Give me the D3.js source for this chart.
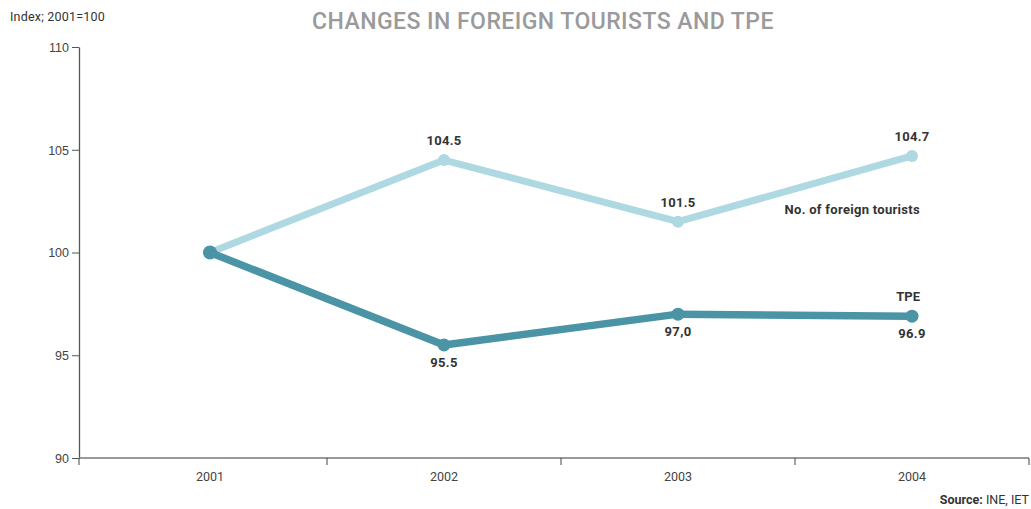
<!DOCTYPE html>
<html>
<head>
<meta charset="utf-8">
<script src="https://cdn.jsdelivr.net/npm/d3@7"></script>
<style>
  body { margin: 0; background: #fff; }
  svg { display: block; font-family: Roboto, "DejaVu Sans", sans-serif; }
</style>
</head>
<body>
<div id="chart"></div>
<script>
// data
var years = ['2001', '2002', '2003', '2004'];
var tourists = [100, 104.5, 101.5, 104.7];
var tpe = [100, 95.5, 97.0, 96.9];
var touristLabels = ['', '104.5', '101.5', '104.7'];
var tpeLabels = ['', '95.5', '97,0', '96.9'];
var yTicks = [90, 95, 100, 105, 110];

var W = 1031, H = 509;
var axisLeft = 79, axisRight = 1029;

var svg = d3.select('#chart').append('svg')
    .attr('width', W)
    .attr('height', H);

var xScale = d3.scaleBand().domain(years).range([93, axisRight]);
var yScale = d3.scaleLinear().domain([90, 110]).range([458, 47]);
var cx = function(y) { return xScale(y) + xScale.bandwidth() / 2; };

// title
svg.append('text')
    .attr('x', 543).attr('y', 29)
    .attr('text-anchor', 'middle')
    .style('font-size', '23px')
    .style('font-weight', 500)
    .style('letter-spacing', '0.45px')
    .style('fill', '#9a9a9c')
    .text('CHANGES IN FOREIGN TOURISTS AND TPE');

svg.append('text')
    .attr('x', 10).attr('y', 21)
    .style('font-size', '12.5px')
    .style('letter-spacing', '0.2px')
    .style('fill', '#333')
    .text('Index; 2001=100');

// y axis
var yAxis = svg.append('g')
    .attr('transform', 'translate(' + axisLeft + ',0)')
    .call(d3.axisLeft(yScale).tickValues(yTicks).tickSize(7).tickPadding(3).tickSizeOuter(0));
yAxis.select('.domain').attr('stroke', '#555').attr('stroke-width', 1.3);
yAxis.selectAll('.tick line').attr('stroke', '#555');
yAxis.selectAll('.tick text').style('font-size', '12.5px').style('fill', '#444').attr('dy', '0.35em');

// x axis
var xg = svg.append('g').attr('transform', 'translate(0,' + yScale(90) + ')');
xg.append('line')
    .attr('x1', axisLeft).attr('x2', axisRight)
    .attr('stroke', '#777').attr('stroke-width', 1.3);
var xTicks = [axisLeft].concat(years.slice(1).map(function(y) { return xScale(y); }), [axisRight]);
xg.selectAll('.xtick').data(xTicks).enter().append('line')
    .attr('class', 'xtick')
    .attr('x1', function(d) { return d; }).attr('x2', function(d) { return d; })
    .attr('y1', 0).attr('y2', 7)
    .attr('stroke', '#444');
xg.selectAll('.xlabel').data(years).enter().append('text')
    .attr('class', 'xlabel')
    .attr('x', cx).attr('y', 23)
    .attr('text-anchor', 'middle')
    .style('font-size', '12.5px')
    .style('fill', '#444')
    .text(function(d) { return d; });

// lines
var line = d3.line()
    .x(function(d, i) { return cx(years[i]); })
    .y(function(d) { return yScale(d); });

function drawSeries(values, color, width, r) {
    svg.append('path')
        .datum(values)
        .attr('d', line)
        .attr('fill', 'none')
        .attr('stroke', color)
        .attr('stroke-width', width)
        .attr('stroke-linejoin', 'round');
    svg.selectAll(null).data(values).enter().append('circle')
        .attr('cx', function(d, i) { return cx(years[i]); })
        .attr('cy', function(d) { return yScale(d); })
        .attr('r', r)
        .attr('fill', color);
}

drawSeries(tourists, '#aed8e2', 7, 6);
drawSeries(tpe, '#4a94a6', 7.5, 6.5);
// the 2001 point sits on top of both
svg.append('circle')
    .attr('cx', cx(years[0])).attr('cy', yScale(tpe[0]))
    .attr('r', 7).attr('fill', '#4a94a6');

// value labels
function labels(values, texts, dy) {
    svg.selectAll(null).data(values).enter().append('text')
        .attr('x', function(d, i) { return cx(years[i]); })
        .attr('y', function(d) { return yScale(d) + dy; })
        .attr('text-anchor', 'middle')
        .style('font-size', '13px')
        .style('font-weight', 'bold')
        .style('letter-spacing', '0.3px')
        .style('fill', '#333')
        .text(function(d, i) { return texts[i]; });
}
labels(tourists, touristLabels, -15);
labels(tpe, tpeLabels, 22);

// series names
svg.append('text')
    .attr('x', cx('2004') + 8).attr('y', yScale(tourists[3]) + 58)
    .attr('text-anchor', 'end')
    .style('font-size', '13px').style('font-weight', 'bold').style('letter-spacing', '0.3px').style('fill', '#333')
    .text('No. of foreign tourists');
svg.append('text')
    .attr('x', cx('2004') + 8).attr('y', yScale(tpe[3]) - 15)
    .attr('text-anchor', 'end')
    .style('font-size', '13px').style('font-weight', 'bold').style('fill', '#333')
    .text('TPE');

// source
var src = svg.append('text')
    .attr('x', axisRight).attr('y', 504)
    .attr('text-anchor', 'end')
    .style('font-size', '12.5px').style('fill', '#333');
src.append('tspan').style('font-weight', 'bold').text('Source: ');
src.append('tspan').text('INE, IET');
</script>
</body>
</html>
